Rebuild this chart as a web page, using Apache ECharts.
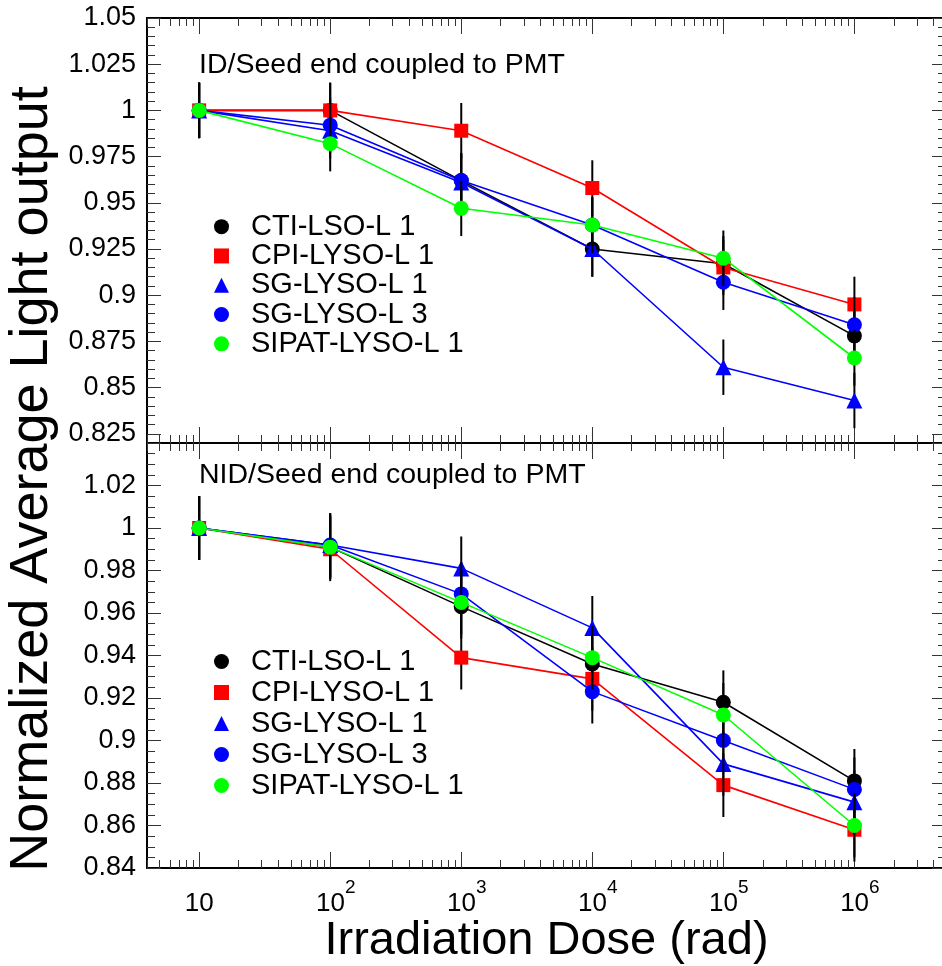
<!DOCTYPE html>
<html><head><meta charset="utf-8">
<script src="https://cdn.jsdelivr.net/npm/echarts@6/dist/echarts.min.js"></script>
<style>html,body{margin:0;padding:0;background:#fff}#c{width:942px;height:966px}</style>
</head><body><div id="c"></div>
<script>
// ---- data ----
const doses = [10, 100, 1000, 10000, 100000, 1000000];
const seriesNames = ['CTI-LSO-L 1', 'CPI-LYSO-L 1', 'SG-LYSO-L 1', 'SG-LYSO-L 3', 'SIPAT-LYSO-L 1'];

// ID/Seed end coupled to PMT (top panel)
const idCTI   = [1.000, 1.000, 0.962, 0.925, 0.917, 0.878];
const idCPI   = [1.000, 1.000, 0.989, 0.958, 0.915, 0.895];
const idSG1   = [1.000, 0.989, 0.961, 0.925, 0.861, 0.843];
const idSG3   = [1.000, 0.992, 0.962, 0.938, 0.907, 0.884];
const idSIPAT = [1.000, 0.982, 0.947, 0.938, 0.920, 0.866];

// NID/Seed end coupled to PMT (bottom panel)
const nidCTI   = [1.000, 0.991, 0.963, 0.936, 0.918, 0.881];
const nidCPI   = [1.000, 0.990, 0.939, 0.929, 0.879, 0.858];
const nidSG1   = [1.000, 0.992, 0.981, 0.953, 0.889, 0.871];
const nidSG3   = [1.000, 0.992, 0.969, 0.923, 0.900, 0.877];
const nidSIPAT = [1.000, 0.991, 0.965, 0.939, 0.912, 0.860];

// error bars (+/-)
const errID  = [0.015, 0.015, 0.015, 0.015, 0.015, 0.015];
const errNID = [0.015, 0.015, 0.015, 0.015, 0.015, 0.015];

// tick labels
const xTickLabels = [10, 100, 1000, 10000, 100000, 1000000];
const yLabelsTop = [0.825, 0.85, 0.875, 0.9, 0.925, 0.95, 0.975, 1.0, 1.025, 1.05];
const yLabelsBottom = [0.84, 0.86, 0.88, 0.9, 0.92, 0.94, 0.96, 0.98, 1.0, 1.02];
const yMajorBottom = [0.84, 0.86, 0.88, 0.9, 0.92, 0.94, 0.96, 0.98, 1.0, 1.02, 1.04];
const panelTitles = ['ID/Seed end coupled to PMT', 'NID/Seed end coupled to PMT'];

// ---- styling ----
const FONT = 'Liberation Sans, Arial, Helvetica, sans-serif';
const colors = ['#000000', '#ff0000', '#0000ff', '#0000ff', '#00ff00'];
const symbols = ['circle', 'rect', 'triangle', 'circle', 'circle'];
const symSizes = [15, 14, 16, 15, 15];

// minor ticks
const xMinor = [];
for (let e = 0; e <= 6; e++) for (let k = 2; k <= 9; k++) {
  const v = k * Math.pow(10, e);
  if (v >= 4 && v <= 5e6) xMinor.push(v);
}
const yMinorTop = [], yMinorBottom = [];
for (let k = 164; k <= 210; k++) if (k % 5 !== 0) yMinorTop.push(+(k * 0.005).toFixed(3));
for (let k = 168; k <= 208; k++) if (k % 4 !== 0) yMinorBottom.push(+(k * 0.005).toFixed(3));

const grids = [
  { left: 147, right: -4, top: 18, height: 425 },
  { left: 147, right: -4, top: 443, height: 425 }
];
const yCfg = [
  { min: 0.82, max: 1.05, labels: yLabelsTop, major: yLabelsTop, minor: yMinorTop },
  { min: 0.84, max: 1.04, labels: yLabelsBottom, major: yMajorBottom, minor: yMinorBottom }
];
const panelData = [
  [idCTI, idCPI, idSG1, idSG3, idSIPAT],
  [nidCTI, nidCPI, nidSG1, nidSG3, nidSIPAT]
];
const panelErr = [errID, errNID];

const tickStyle = { color: '#333', width: 1 };
const frameStyle = { color: '#000', width: 2 };

function xFmt(value) {
  const e = value > 9 ? Math.round(Math.log10(value)) : Math.round(value);
  if (e === 1) return '{b|10}';
  return '{p|}{b|10}{s|' + e + '}';
}
function yFmt(v) { return String(Number((+v).toFixed(3))); }

const xAxes = [], yAxes = [];
[0, 1].forEach(g => {
  const defs = [
    { pos: 'bottom', major: true }, { pos: 'bottom', major: false },
    { pos: 'top', major: true }, { pos: 'top', major: false }
  ];
  defs.forEach(d => {
    const showLab = g === 1 && d.pos === 'bottom' && d.major;
    const ax = {
      type: 'log', logBase: 10, gridIndex: g, position: d.pos, min: 4, max: 5e6,
      axisLine: { show: d.major, onZero: false, lineStyle: frameStyle },
      axisTick: { show: true, inside: true, length: d.major ? 16 : 8,
        customValues: d.major ? xTickLabels : xMinor, lineStyle: tickStyle },
      axisLabel: { show: showLab, customValues: xTickLabels, formatter: xFmt, margin: 10,
        color: '#000', fontFamily: FONT,
        rich: {
          b: { fontSize: 26, lineHeight: 52, fontFamily: FONT, color: '#000' },
          s: { fontSize: 19, lineHeight: 19, verticalAlign: 'top', fontFamily: FONT, color: '#000' },
          p: { width: 11 }
        } },
      splitLine: { show: false }, minorTick: { show: false }
    };
    if (showLab) {
      ax.name = 'Irradiation Dose (rad)';
      ax.nameLocation = 'middle';
      ax.nameGap = 50;
      ax.nameMoveOverlap = false;
      ax.nameTextStyle = { fontSize: 47, fontFamily: FONT, color: '#000' };
    }
    xAxes.push(ax);
  });
  const yd = [
    { pos: 'left', major: true }, { pos: 'left', major: false },
    { pos: 'right', major: true }, { pos: 'right', major: false }
  ];
  yd.forEach(d => {
    const c = yCfg[g];
    yAxes.push({
      type: 'value', gridIndex: g, position: d.pos, min: c.min, max: c.max,
      axisLine: { show: d.major, onZero: false, lineStyle: frameStyle },
      axisTick: { show: true, inside: true, length: d.major ? 14 : 8,
        customValues: d.major ? c.major : c.minor, lineStyle: tickStyle },
      axisLabel: { show: d.major && d.pos === 'left', customValues: c.labels, formatter: yFmt,
        fontSize: 27, fontFamily: FONT, color: '#000', margin: 11 },
      splitLine: { show: false }
    });
  });
});

const series = [];
[0, 1].forEach(g => {
  panelData[g].forEach((vals, i) => {
    series.push({
      type: 'custom', xAxisIndex: 4 * g, yAxisIndex: 4 * g, silent: true,
      z: 2 * i + 2,
      data: doses.map((d, j) => [d, vals[j], panelErr[g][j]]),
      encode: { x: 0, y: 1 },
      renderItem: (params, api) => {
        const x = api.value(0), y = api.value(1), e = api.value(2);
        const p1 = api.coord([x, y - e]), p2 = api.coord([x, y + e]);
        return { type: 'line', shape: { x1: p1[0], y1: p1[1], x2: p2[0], y2: p2[1] },
          style: { stroke: '#000', lineWidth: 2 } };
      }
    });
    series.push({
      type: 'line', name: seriesNames[i], xAxisIndex: 4 * g, yAxisIndex: 4 * g,
      z: 2 * i + 3,
      data: doses.map((d, j) => [d, vals[j]]),
      symbol: symbols[i], symbolSize: symSizes[i], showAllSymbol: true,
      lineStyle: { color: colors[i], width: 1.6 },
      itemStyle: { color: colors[i] },
      emphasis: { disabled: true }
    });
  });
});

const legends = [0, 1].map(g => ({
  orient: 'vertical', left: 214, top: g === 0 ? 212 : 646,
  itemWidth: 15, itemHeight: 15, itemGap: 0,
  selectedMode: false, padding: 0,
  data: seriesNames.map((n, i) => ({ name: n, icon: symbols[i] })),
  textStyle: { fontSize: 29, lineHeight: g === 0 ? 29.3 : 31, fontFamily: FONT, color: '#000', padding: [0, 0, 0, 17] }
}));

const titles = panelTitles.map((t, g) => ({
  text: t, left: 199, top: g === 0 ? 50 : 460, padding: 0,
  textStyle: { fontSize: 28.5, lineHeight: 30, fontWeight: 'normal', fontFamily: FONT, color: '#000' }
}));

const chart = echarts.init(document.getElementById('c'), null, { renderer: 'canvas' });
chart.setOption({
  animation: false,
  backgroundColor: '#fff',
  title: titles,
  legend: legends,
  grid: grids.map(g => Object.assign({ outerBoundsMode: 'none', containLabel: false }, g)),
  xAxis: xAxes,
  yAxis: yAxes,
  series: series,
  graphic: [{
    type: 'text', x: 32, y: 479, rotation: Math.PI / 2,
    style: { text: 'Normalized Average Light output', fontSize: 54, fontFamily: FONT,
      fill: '#000', align: 'center', verticalAlign: 'middle' }
  }]
});
</script>
</body></html>
